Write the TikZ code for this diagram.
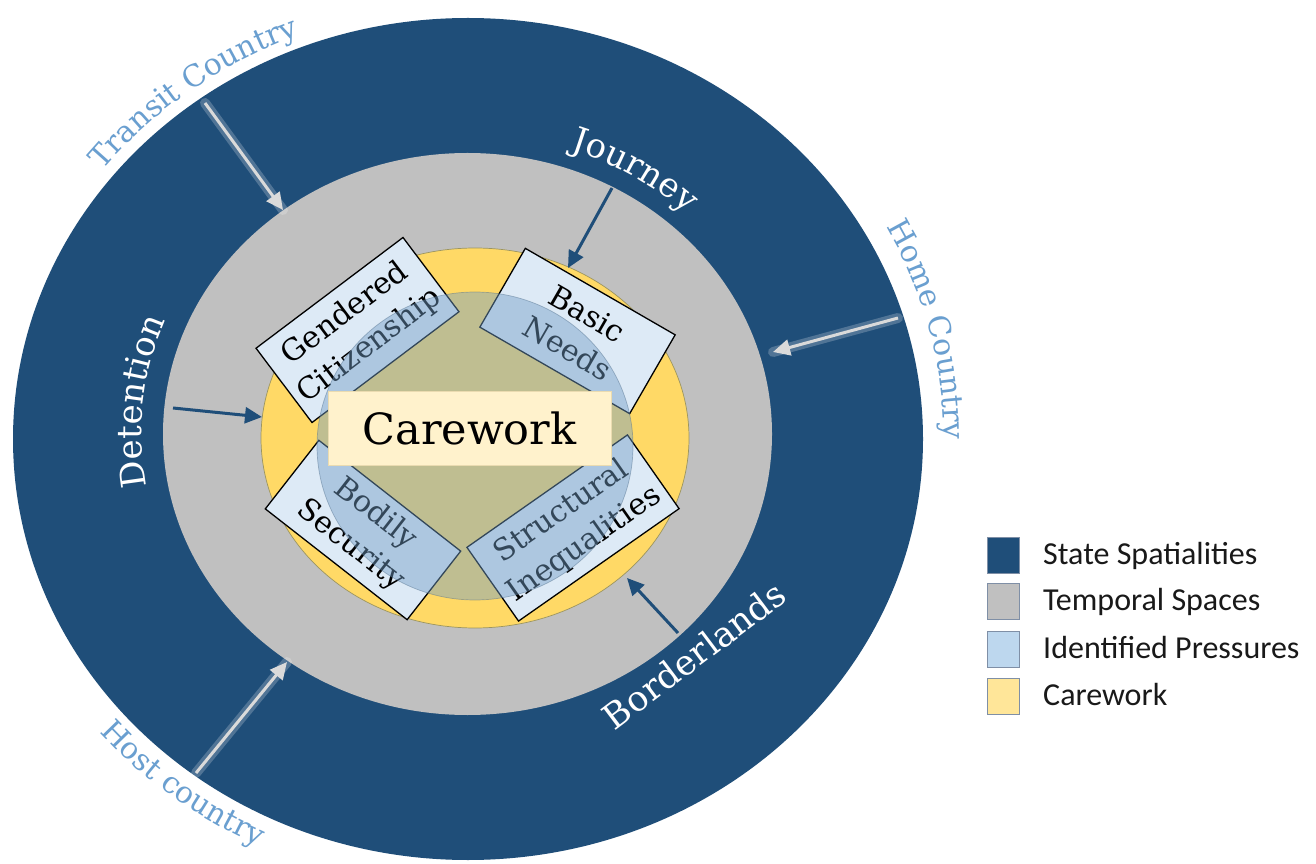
\documentclass[tikz,border=0pt]{standalone}
\usepackage{fontspec}
\setmainfont{DejaVu Serif}
\newfontfamily\legendfont{Carlito}
\usetikzlibrary{arrows.meta,decorations.text}
\definecolor{stateblue}{HTML}{1F4E79}
\definecolor{tempgray}{HTML}{C0C0C0}
\definecolor{careyellow}{HTML}{FFD966}
\definecolor{boxblue}{HTML}{DDEAF6}
\definecolor{overblue}{HTML}{739EC7}
\definecolor{outerblue}{HTML}{6A9FD0}
\definecolor{carebox}{HTML}{FFF2CC}
\definecolor{careboxedge}{HTML}{EADBB0}
\definecolor{legblue}{HTML}{BDD7EE}
\definecolor{legyellow}{HTML}{FFE699}
\definecolor{legedge}{HTML}{7F8FA6}
\definecolor{arrowgray}{HTML}{DADADA}
\definecolor{yellowedge}{HTML}{9C9560}
\newcommand\fOuter{\fontsize{30}{30}\selectfont}
\newcommand\fInner{\fontsize{34}{34}\selectfont}
\begin{document}
\begin{tikzpicture}[x=1pt,y=1pt,
  pbox/.style={draw=black, line width=1.3pt, fill=boxblue, align=center, font=\fontsize{30}{40}\selectfont, inner sep=0pt},
  darrow/.style={draw=stateblue, line width=3pt, -{Triangle[length=17pt,width=16pt]}},
  larrow/.style={draw=arrowgray, line width=3pt, -{Triangle[length=17pt,width=16pt]}},
  glow/.style={draw=white, line width=10pt, opacity=0.22, line cap=round},
  legsq/.style={draw=legedge, line width=0.8pt, minimum width=32pt, minimum height=36pt, inner sep=0pt},
  legtxt/.style={font=\legendfont\fontsize{32}{32}\selectfont, anchor=base west, text=black!90, inner sep=0pt},
  wlabel/.style={text=white, font=\fontsize{35}{35}\selectfont, inner sep=0pt}
]
\useasboundingbox (0,0) rectangle (1316,863);
\fill[white] (0,0) rectangle (1316,863);

% rings
\fill[stateblue] (468,424) ellipse [x radius=455pt, y radius=421pt];
\fill[tempgray] (467.5,429) ellipse [x radius=304.5pt, y radius=281pt];
\filldraw[fill=careyellow, draw=yellowedge, line width=0.7pt] (475,425) ellipse [x radius=214pt, y radius=190pt];

% pressure boxes
\node[pbox, rotate=37, minimum width=184pt, minimum height=93pt] (gc) at (357.5,533) {Gendered\\Citizenship};
\node[pbox, rotate=-30, minimum width=173pt, minimum height=91pt] (bn) at (577.5,532) {Basic\\Needs};
\node[pbox, rotate=-38, minimum width=180pt, minimum height=87pt] (bs) at (363,333) {Bodily\\Security};
\node[pbox, rotate=35, minimum width=196pt, minimum height=90pt] (si) at (573,335) {Structural\\Inequalities};

% translucent inner circle
\fill[overblue, fill opacity=0.45] (475,417) ellipse [x radius=158pt, y radius=154pt];
\draw[overblue!70!black, draw opacity=0.45, line width=0.7pt] (475,417) ellipse [x radius=158pt, y radius=154pt];

% carework box
\node[draw=careboxedge, line width=0.8pt, fill=carebox, minimum width=283pt, minimum height=74pt, font=\fontsize{43}{43}\selectfont, inner sep=0pt] (cw) at (469.5,435) {Carework};

% light arrows (outer)
\coordinate (tcA) at (205,760); \coordinate (tcB) at (283,653);
\coordinate (hmA) at (898,545); \coordinate (hmB) at (773,511);
\coordinate (hoA) at (196,90);  \coordinate (hoB) at (287,201);
\draw[glow] (tcA) -- (tcB);
\draw[glow] (hmA) -- (hmB);
\draw[glow] (hoA) -- (hoB);
\draw[larrow] (tcA) -- (tcB);
\draw[larrow] (hmA) -- (hmB);
\draw[larrow] (hoA) -- (hoB);

% dark arrows (inner)
\coordinate (jA) at (612,675); \coordinate (jB) at (568,595);
\coordinate (dA) at (173,455); \coordinate (dB) at (262,446);
\coordinate (bA) at (678,230); \coordinate (bB) at (627,285);
\draw[darrow] (jA) -- (jB);
\draw[darrow] (dA) -- (dB);
\draw[darrow] (bA) -- (bB);

% outer curved labels
\path[decorate, decoration={text along path, text align=center, text color=outerblue, text={|\fOuter|Transit Country}}]
  (468,424) ++(163:466pt and 433pt) arc[start angle=163, end angle=91, x radius=466pt, y radius=433pt];
\path[decorate, decoration={text along path, text align=center, text color=outerblue, text={|\fOuter|Home Country}}]
  (468,424) ++(49:476pt and 443pt) arc[start angle=49, end angle=-21, x radius=476pt, y radius=443pt];
\path[decorate, decoration={text along path, text align=center, text color=outerblue, text={|\fOuter|Host country}}]
  (468,424) ++(199:485pt and 451pt) arc[start angle=199, end angle=265, x radius=485pt, y radius=451pt];

% inner white labels
\path[decorate, decoration={text along path, text align=center, text color=white, text={|\fInner|Journey}}]
  (467.5,429) ++(90:324pt and 300pt) arc[start angle=90, end angle=28, x radius=324pt, y radius=300pt];
\path[decorate, decoration={text along path, text align=center, text color=white, text={|\fInner|Detention}}]
  (467.5,429) ++(205:326pt and 302pt) arc[start angle=205, end angle=143, x radius=326pt, y radius=302pt];
\node[wlabel, rotate=37] (bl) at (694,208) {Borderlands};

% legend
\node[legsq, fill=stateblue] (l1) at (1003,308) {};
\node[legsq, fill=tempgray] (l2) at (1003,262) {};
\node[legsq, fill=legblue] (l3) at (1003,214) {};
\node[legsq, fill=legyellow] (l4) at (1003,167) {};
\node[legtxt] (t1) at (1043,299) {State Spatialities};
\node[legtxt] (t2) at (1043,253) {Temporal Spaces};
\node[legtxt] (t3) at (1043,205) {Identified Pressures};
\node[legtxt] (t4) at (1043,158) {Carework};
\end{tikzpicture}
\end{document}
